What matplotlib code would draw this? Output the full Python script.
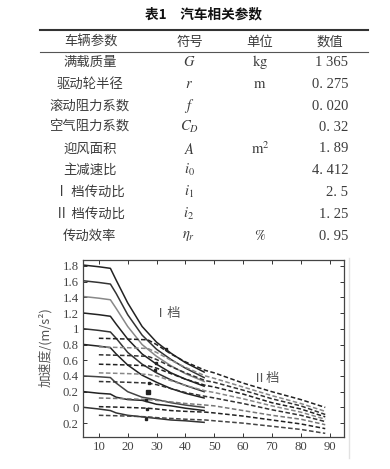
import matplotlib
matplotlib.use("Agg")
import matplotlib.pyplot as plt
from matplotlib.lines import Line2D

plt.rcParams['font.family'] = ['Noto Sans CJK SC', 'DejaVu Sans']
plt.rcParams['mathtext.fontset'] = 'stix'

W, H = 390, 469

# ---------------- table data ----------------
table_title = "表1　汽车相关参数"
col_headers = ["车辆参数", "符号", "单位", "数值"]
param_names = ["满载质量", "驱动轮半径", "滚动阻力系数", "空气阻力系数", "迎风面积",
               "主减速比", "Ⅰ 档传动比", "Ⅱ 档传动比", "传动效率"]
param_symbols = [r"$G$", r"$r$", r"$f$", r"$C_D$", r"$A$", r"$i_0$", r"$i_1$", r"$i_2$", r"$\eta_r$"]
param_units = [r"$\mathrm{kg}$", r"$\mathrm{m}$", "", "", r"$\mathrm{m}^2$", "", "", "", r"$\%$"]
param_values = ["1 365", "0. 275", "0. 020", "0. 32", "1. 89", "4. 412", "2. 5", "1. 25", "0. 95"]

# ---------------- chart data ----------------
speed_gear1 = [5, 10, 14, 16, 20, 25, 30, 35, 40, 46.5]
acc_gear1 = [
    [1.81, 1.79, 1.77, 1.62, 1.33, 1.03, 0.83, 0.69, 0.57, 0.45],
    [1.61, 1.59, 1.57, 1.45, 1.18, 0.92, 0.74, 0.61, 0.50, 0.38],
    [1.41, 1.39, 1.37, 1.26, 1.03, 0.80, 0.65, 0.53, 0.43, 0.33],
    [1.20, 1.18, 1.16, 1.06, 0.87, 0.68, 0.55, 0.44, 0.36, 0.27],
    [1.00, 0.98, 0.96, 0.88, 0.70, 0.55, 0.44, 0.35, 0.28, 0.20],
    [0.80, 0.78, 0.76, 0.68, 0.54, 0.41, 0.32, 0.24, 0.18, 0.12],
    [0.40, 0.39, 0.38, 0.31, 0.20, 0.13, 0.10, 0.06, 0.03, 0.00],
    [0.20, 0.18, 0.17, 0.13, 0.10, 0.09, 0.04, 0.02, -0.01, -0.04],
    [0.00, -0.02, -0.04, -0.07, -0.10, -0.12, -0.14, -0.16, -0.17, -0.19],
]
gear1_colors = ["#222222", "#333333", "#888888", "#222222", "#333333",
                "#222222", "#444444", "#222222", "#333333"]

speed_gear2 = [10, 20, 27, 30, 35, 40, 47, 50, 60, 70, 80, 88.5]
acc_gear2 = [
    [0.88, 0.87, 0.86, 0.80, 0.68, 0.58, 0.47, 0.44, 0.31, 0.20, 0.10, 0.00],
    [0.77, 0.76, 0.75, 0.70, 0.60, 0.51, 0.40, 0.37, 0.26, 0.15, 0.05, -0.05],
    [0.67, 0.66, 0.65, 0.61, 0.52, 0.44, 0.34, 0.32, 0.22, 0.11, 0.02, -0.09],
    [0.55, 0.54, 0.53, 0.50, 0.43, 0.36, 0.28, 0.26, 0.17, 0.06, -0.02, -0.12],
    [0.44, 0.43, 0.42, 0.40, 0.34, 0.28, 0.21, 0.19, 0.11, 0.02, -0.06, -0.15],
    [0.33, 0.32, 0.31, 0.29, 0.24, 0.19, 0.14, 0.12, 0.05, -0.03, -0.10, -0.18],
    [0.12, 0.11, 0.10, 0.09, 0.07, 0.05, 0.03, 0.02, -0.04, -0.10, -0.15, -0.22],
    [0.01, 0.00, -0.01, -0.02, -0.04, -0.05, -0.06, -0.07, -0.11, -0.16, -0.21, -0.27],
    [-0.10, -0.11, -0.12, -0.13, -0.14, -0.15, -0.16, -0.17, -0.20, -0.24, -0.28, -0.33],
]
gear2_colors = ["#222222", "#888888", "#333333", "#222222", "#888888",
                "#333333", "#777777", "#222222", "#444444"]

marker_x = [33.2, 29.7, 29.5, 27.4, 26.2, 26.8, 26.2]
marker_y = [0.74, 0.57, 0.48, 0.31, 0.09, -0.02, -0.15]
big_marker_x = [27.1]
big_marker_y = [0.19]

x_ticks = [10, 20, 30, 40, 50, 60, 70, 80, 90]
y_ticks = [-0.2, 0, 0.2, 0.4, 0.6, 0.8, 1.0, 1.2, 1.4, 1.6, 1.8]
y_tick_labels = ["0.2", "0", "0.2", "0.4", "0.6", "0.8", "1", "1.2", "1.4", "1.6", "1.8"]
y_label = "加速度/(m/s²)"
gear1_label = "Ⅰ档"
gear2_label = "Ⅱ档"

# ---------------- figure ----------------
fig = plt.figure(figsize=(W / 100, H / 100), dpi=100)

def fx(px):
    return px / W

def fy(py):
    return 1 - py / H

txt_gray = "#3c3c3c"

fig.text(fx(203), fy(14), table_title, ha="center", va="center",
         fontsize=9.8, fontweight="bold", color="#111111")

fig.add_artist(Line2D([fx(40), fx(368)], [fy(30), fy(30)], color="#333333", lw=1.5))
fig.add_artist(Line2D([fx(40), fx(368)], [fy(51.5), fy(51.5)], color="#555555", lw=0.8))

col_x = [91, 190, 260, 330]
header_y = 42
for cx, h in zip(col_x, col_headers):
    fig.text(fx(cx), fy(header_y), h, ha="center", va="center", fontsize=9.6,
             color=txt_gray, fontweight="light")

row_y = [62, 84, 106, 127, 149, 170, 192, 214, 236]
for ry, name, sym, unit, val in zip(row_y, param_names, param_symbols, param_units, param_values):
    fig.text(fx(90), fy(ry), name, ha="center", va="center", fontsize=9.6,
             color=txt_gray, fontweight="light")
    fig.text(fx(189), fy(ry), sym, ha="center", va="center", fontsize=10.5, color=txt_gray)
    if unit:
        fig.text(fx(260), fy(ry), unit, ha="center", va="center", fontsize=10.5, color=txt_gray)
    fig.text(fx(348), fy(ry), val, ha="right", va="center", fontsize=10.5,
             color=txt_gray, family="Liberation Serif")

# light scan line on right
fig.add_artist(Line2D([fx(348.5), fx(348.5)], [fy(258), fy(458)], color="#e2e2e2", lw=1.0))

ax = fig.add_axes([fx(83), fy(436.5), fx(344) - fx(83), fy(260) - fy(436.5)])

for vals, c in zip(acc_gear1, gear1_colors):
    ax.plot(speed_gear1, vals, color=c, lw=1.1, solid_joinstyle="round")

for vals, c in zip(acc_gear2, gear2_colors):
    ax.plot(speed_gear2, vals, color=c, lw=1.1, linestyle=(0, (3, 1.6)))

ax.plot(marker_x, marker_y, linestyle="none", marker="s", ms=1.8, color="#222222")
ax.plot(big_marker_x, big_marker_y, linestyle="none", marker="s", ms=3.0, color="#222222")

ax.text(33.6, 1.2, gear1_label, ha="center", va="center", fontsize=9.5, color="#555555",
        fontweight="light")
ax.text(68, 0.37, gear2_label, ha="center", va="center", fontsize=9.5, color="#555555",
        fontweight="light")

ax.set_xlim(4.5, 95)
ax.set_ylim(-0.37, 1.876)
ax.set_xticks(x_ticks)
ax.set_xticklabels([str(t) for t in x_ticks], family="Liberation Serif", fontsize=9.2, color="#444444")
ax.set_yticks(y_ticks)
ax.set_yticklabels(y_tick_labels, family="Liberation Serif", fontsize=9.2, color="#444444")
ax.tick_params(direction="in", length=3, width=0.7, top=True, right=True, pad=3, color="#333333")
for sp in ax.spines.values():
    sp.set_color("#444444")
    sp.set_linewidth(0.9)

fig.text(fx(45), fy(347), y_label, rotation=90, ha="center", va="center",
         fontsize=9.2, color="#555555", fontweight="light")

fig.savefig("out.png", dpi=100)
